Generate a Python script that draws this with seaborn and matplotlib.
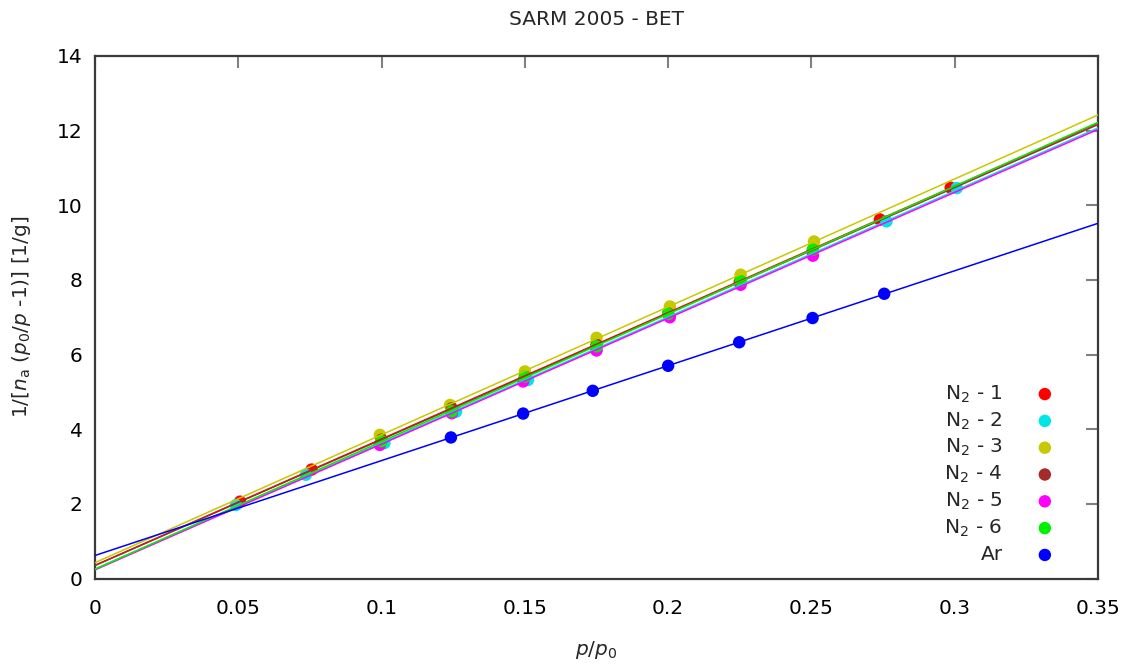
import numpy as np
import pandas as pd
import seaborn as sns
import matplotlib
matplotlib.use("Agg")
import matplotlib.pyplot as plt

# BET transform data: relative pressure p/p0 and 1/[n_a (p0/p - 1)] in 1/g
n2_1_x = [0.0506, 0.0756, 0.2739, 0.2986]
n2_1_y = [2.06, 2.92, 9.62, 10.47]

n2_2_x = [0.0492, 0.0736, 0.1010, 0.1260, 0.1511, 0.1750, 0.2762, 0.3007]
n2_2_y = [1.97, 2.78, 3.63, 4.47, 5.32, 6.14, 9.57, 10.46]

n2_3_x = [0.0994, 0.1239, 0.1500, 0.1750, 0.2006, 0.2253, 0.2509]
n2_3_y = [3.85, 4.65, 5.55, 6.45, 7.29, 8.14, 9.03]

n2_4_x = [0.1000, 0.1245, 0.1500, 0.1750, 0.2000, 0.2250, 0.2505]
n2_4_y = [3.72, 4.56, 5.41, 6.26, 7.10, 7.95, 8.80]

n2_5_x = [0.0994, 0.1245, 0.1494, 0.1750, 0.2006, 0.2253, 0.2505]
n2_5_y = [3.58, 4.43, 5.28, 6.11, 7.00, 7.87, 8.65]

n2_6_x = [0.1000, 0.1245, 0.1500, 0.1750, 0.2000, 0.2253, 0.2505]
n2_6_y = [3.68, 4.48, 5.41, 6.22, 7.09, 7.97, 8.81]

ar_x = [0.1242, 0.1494, 0.1737, 0.2000, 0.2248, 0.2504, 0.2754]
ar_y = [3.78, 4.42, 5.03, 5.70, 6.33, 6.98, 7.63]

labels = ["N$_2$ - 1", "N$_2$ - 2", "N$_2$ - 3", "N$_2$ - 4",
          "N$_2$ - 5", "N$_2$ - 6", "Ar"]
colors = ["#ff0000", "#00e5e5", "#c8c800", "#a52a2a",
          "#ff00ff", "#00f000", "#0000ff"]
xs = [n2_1_x, n2_2_x, n2_3_x, n2_4_x, n2_5_x, n2_6_x, ar_x]
ys = [n2_1_y, n2_2_y, n2_3_y, n2_4_y, n2_5_y, n2_6_y, ar_y]

xticks = [0, 0.05, 0.1, 0.15, 0.2, 0.25, 0.3, 0.35]
xtick_labels = ["0", "0.05", "0.1", "0.15", "0.2", "0.25", "0.3", "0.35"]
yticks = [0, 2, 4, 6, 8, 10, 12, 14]

frames = [pd.DataFrame({"x": x, "y": y, "series": lab})
          for x, y, lab in zip(xs, ys, labels)]
df = pd.concat(frames, ignore_index=True)

sns.set_style("white")
plt.rcParams["font.family"] = ["DejaVu Sans"]
plt.rcParams["mathtext.fontset"] = "dejavusans"

fig = plt.figure(figsize=(11.35, 6.65), dpi=100)
ax = fig.add_axes([0.0837, 0.130, 0.9674 - 0.0837, 0.9158 - 0.130])
ax.set_xlim(0, 0.35)
ax.set_ylim(0, 14)

palette = dict(zip(labels, colors))
sns.scatterplot(data=df, x="x", y="y", hue="series", palette=palette,
                s=80, edgecolor="none", linewidth=0, legend=False, ax=ax,
                zorder=3)

# Linear BET fits, extended across the full pressure range
for x, y, c in zip(xs, ys, colors):
    sns.regplot(x=np.array(x), y=np.array(y), scatter=False, ci=None,
                truncate=False, color=c, line_kws={"lw": 1.1, "zorder": 4},
                ax=ax)
ax.set_xlim(0, 0.35)
ax.set_ylim(0, 14)

fs = 14.5
ax.set_xticks(xticks)
ax.set_xticklabels(xtick_labels)
ax.set_yticks(yticks)
ax.tick_params(axis="both", which="major", direction="in", length=8.5,
               width=1.5, color="#808080", labelsize=fs, labelcolor="#000000",
               top=True, right=True)
ax.tick_params(axis="x", pad=15)
ax.tick_params(axis="y", pad=9)

for sp in ax.spines.values():
    sp.set_visible(True)
    sp.set_color("#3a3a3a")
    sp.set_linewidth(1.6)

ax.set_xlabel("$p$/$p_0$", fontsize=fs, labelpad=15)
ax.set_ylabel(r"1/[$n_\mathrm{a}$ ($p_0$/$p$ -1)] [1/g]", fontsize=fs,
              labelpad=17)
ax.set_title("SARM 2005 - BET", fontsize=fs, pad=22)

# Key: right-justified text followed by a point marker
key_text_x, key_mark_x = 0.905, 0.947
key_top, key_step = 0.353, 0.0513
for i, (lab, c) in enumerate(zip(labels, colors)):
    yy = key_top - i * key_step
    ax.text(key_text_x, yy, lab, transform=ax.transAxes, ha="right",
            va="center", fontsize=fs)
    ax.scatter([key_mark_x], [yy], transform=ax.transAxes, s=80,
               color=c, edgecolor="none", zorder=5, clip_on=False)

fig.savefig("out.png", dpi=100, facecolor="white")
